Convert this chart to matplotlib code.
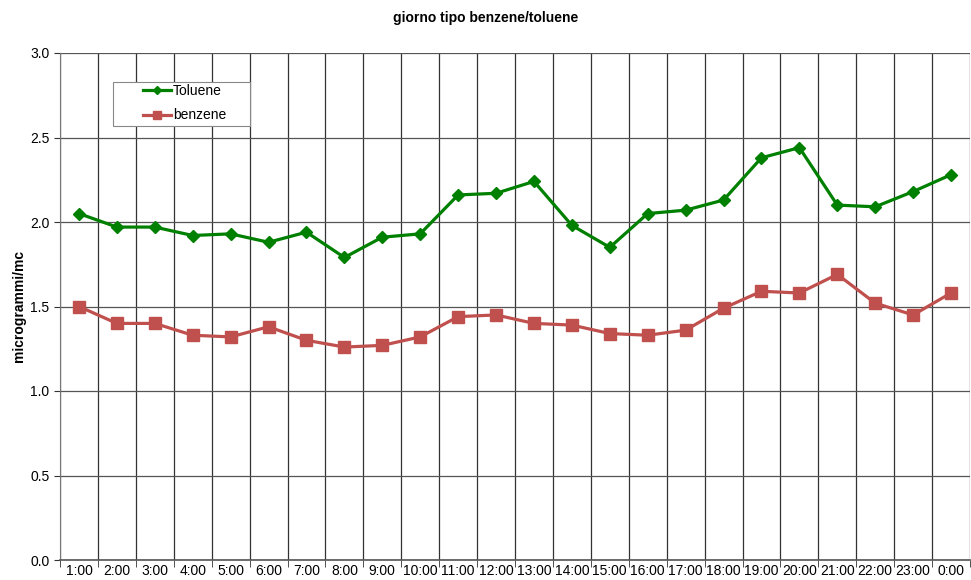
import matplotlib
matplotlib.use("Agg")
import matplotlib.pyplot as plt
from matplotlib.patches import Rectangle
import numpy as np

plt.rcParams['font.family'] = ['Liberation Sans', 'DejaVu Sans']

hours = ["1:00", "2:00", "3:00", "4:00", "5:00", "6:00", "7:00", "8:00", "9:00", "10:00",
         "11:00", "12:00", "13:00", "14:00", "15:00", "16:00", "17:00", "18:00", "19:00",
         "20:00", "21:00", "22:00", "23:00", "0:00"]
toluene = [2.05, 1.97, 1.97, 1.92, 1.93, 1.88, 1.94, 1.79, 1.91, 1.93,
           2.16, 2.17, 2.24, 1.98, 1.85, 2.05, 2.07, 2.13, 2.38,
           2.44, 2.10, 2.09, 2.18, 2.28]
benzene = [1.50, 1.40, 1.40, 1.33, 1.32, 1.38, 1.30, 1.26, 1.27, 1.32,
           1.44, 1.45, 1.40, 1.39, 1.34, 1.33, 1.36, 1.49, 1.59,
           1.58, 1.69, 1.52, 1.45, 1.58]
yticks = [0.0, 0.5, 1.0, 1.5, 2.0, 2.5, 3.0]

fig = plt.figure(figsize=(9.71, 5.8), dpi=100)
ax = fig.add_axes([60/971, 1 - 560/580, 910/971, 507/580])

x = np.arange(len(hours))
ax.plot(x, toluene, color='#008000', lw=2.3, marker='D', ms=6, label='Toluene', zorder=3)
ax.plot(x, benzene, color='#C0504D', lw=2.3, marker='s', ms=8, label='benzene', zorder=3)

ax.set_xlim(-0.5, len(hours) - 0.5)
ax.set_ylim(0, 3.0)
ax.set_yticks(yticks)
ax.set_yticklabels([f"{v:.1f}" for v in yticks], fontsize=10)
ax.set_xticks(x)
ax.set_xticklabels(hours, fontsize=10)
ax.set_xticks(np.arange(-0.5, len(hours), 1.0), minor=True)
ax.tick_params(axis='x', which='major', length=0, pad=3)
ax.tick_params(axis='x', which='minor', length=5, color='#333333', direction='out')
ax.tick_params(axis='y', which='major', length=4, color='#333333', direction='out')
ax.grid(axis='x', which='minor', color='#333333', lw=0.9)
ax.grid(axis='y', which='major', color='#555555', lw=0.9)
for s in ['top', 'right']:
    ax.spines[s].set_visible(False)
ax.spines['left'].set_color('#777777')
ax.spines['bottom'].set_color('#555555')
ax.spines['bottom'].set_linewidth(1.2)

ax.set_ylabel('microgrammi/mc', fontsize=10, fontweight='bold', labelpad=3)
fig.suptitle('giorno tipo benzene/toluene', fontsize=10, fontweight='bold', y=1 - 11/580)

ax.add_patch(Rectangle((53/910, 434/507), 137/910, 44/507, transform=ax.transAxes,
                       facecolor='white', edgecolor='#888888', lw=0.8, zorder=4))
leg = ax.legend(loc='upper left', bbox_to_anchor=(83/910, 1 - 31/507), fontsize=10,
                frameon=False, borderpad=0, borderaxespad=0, handlelength=2.0,
                labelspacing=0.75, handletextpad=0.15, markerscale=0.75)
leg.set_zorder(5)

fig.savefig('out.png', dpi=100)
